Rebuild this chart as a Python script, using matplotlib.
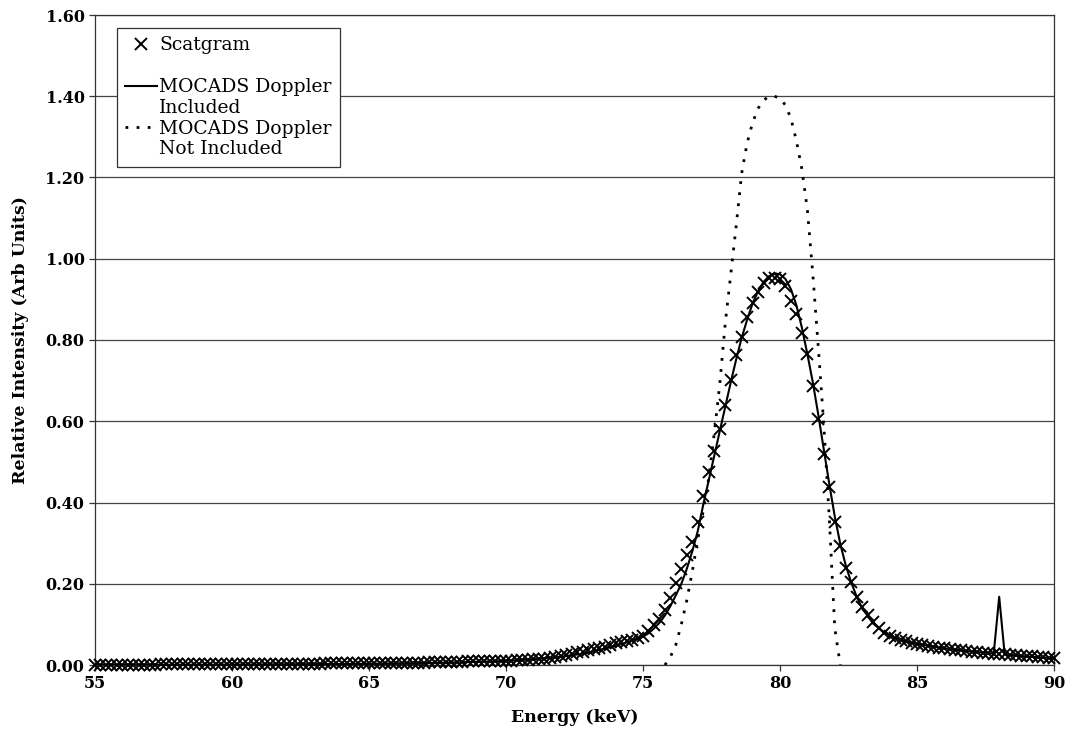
"""
Scatgram vs MOCADS spectrum comparison.
"""

import matplotlib.pyplot as plt
import numpy as np
from matplotlib.lines import Line2D


# ==========================================================
# Data
# ==========================================================

# Scatgram, sampled every 0.2 keV from 55 to 90 keV
scatgram_energy = np.round(np.arange(55.0, 90.001, 0.2), 1)
scatgram_intensity = [
    0.001, 0.001, 0.001, 0.001, 0.001,  # 55
    0.001, 0.001, 0.001, 0.001, 0.001,  # 56
    0.001, 0.001, 0.002, 0.002, 0.002,  # 57
    0.002, 0.002, 0.002, 0.002, 0.002,  # 58
    0.002, 0.002, 0.002, 0.002, 0.002,  # 59
    0.002, 0.002, 0.002, 0.003, 0.003,  # 60
    0.003, 0.003, 0.003, 0.003, 0.003,  # 61
    0.003, 0.003, 0.003, 0.003, 0.003,  # 62
    0.003, 0.003, 0.004, 0.004, 0.004,  # 63
    0.004, 0.004, 0.004, 0.004, 0.004,  # 64
    0.004, 0.005, 0.005, 0.005, 0.005,  # 65
    0.005, 0.006, 0.006, 0.006, 0.006,  # 66
    0.006, 0.007, 0.007, 0.007, 0.008,  # 67
    0.008, 0.008, 0.008, 0.009, 0.009,  # 68
    0.009, 0.010, 0.010, 0.010, 0.011,  # 69
    0.011, 0.011, 0.012, 0.012, 0.013,  # 70
    0.014, 0.015, 0.016, 0.018, 0.020,  # 71
    0.022, 0.025, 0.028, 0.031, 0.033,  # 72
    0.036, 0.039, 0.042, 0.045, 0.049,  # 73
    0.053, 0.056, 0.059, 0.062, 0.066,  # 74
    0.071, 0.083, 0.098, 0.114, 0.135,  # 75
    0.166, 0.202, 0.237, 0.270, 0.303,  # 76
    0.353, 0.417, 0.474, 0.528, 0.580,  # 77
    0.640, 0.702, 0.763, 0.808, 0.857,  # 78
    0.892, 0.918, 0.941, 0.953, 0.952,  # 79
    0.949, 0.932, 0.896, 0.865, 0.818,  # 80
    0.765, 0.688, 0.606, 0.520, 0.438,  # 81
    0.353, 0.292, 0.240, 0.204, 0.168,  # 82
    0.142, 0.123, 0.105, 0.090, 0.080,  # 83
    0.072, 0.067, 0.062, 0.058, 0.055,  # 84
    0.052, 0.049, 0.047, 0.045, 0.043,  # 85
    0.041, 0.039, 0.037, 0.036, 0.034,  # 86
    0.033, 0.031, 0.030, 0.029, 0.028,  # 87
    0.027, 0.026, 0.025, 0.024, 0.023,  # 88
    0.022, 0.021, 0.020, 0.019, 0.018,  # 89
    0.017,                              # 90
]

# MOCADS, Doppler broadening included
doppler_energy = [
    55.0, 60.0, 65.0, 68.0, 70.0, 71.0, 72.0, 73.0, 74.0, 74.5,
    75.0, 75.2, 75.4, 75.6, 75.8, 76.0, 76.2, 76.4, 76.6, 76.8,
    77.0, 77.2, 77.4, 77.6, 77.8, 78.0, 78.2, 78.4, 78.6, 78.8,
    79.0, 79.2, 79.4, 79.6, 79.8, 80.0, 80.2, 80.4, 80.6, 80.8,
    81.0, 81.2, 81.4, 81.6, 81.8, 82.0, 82.2, 82.4, 82.6, 82.8,
    83.0, 83.4, 83.8, 84.2, 84.6, 85.0, 86.0, 87.0, 87.8, 88.0,
    88.2, 89.0, 90.0,
]
doppler_intensity = [
    0.000, 0.001, 0.003, 0.006, 0.010, 0.014, 0.020, 0.030, 0.047, 0.058,
    0.070, 0.078, 0.090, 0.104, 0.122, 0.145, 0.172, 0.200, 0.237, 0.280,
    0.330, 0.395, 0.455, 0.515, 0.575, 0.635, 0.695, 0.752, 0.805, 0.850,
    0.890, 0.920, 0.943, 0.957, 0.964, 0.962, 0.950, 0.925, 0.885, 0.830,
    0.765, 0.695, 0.615, 0.530, 0.445, 0.365, 0.298, 0.245, 0.203, 0.168,
    0.140, 0.102, 0.080, 0.067, 0.058, 0.052, 0.041, 0.033, 0.028, 0.168,
    0.026, 0.021, 0.017,
]

# MOCADS, Doppler broadening not included
no_doppler_energy = [
    75.8, 76.0, 76.2, 76.4, 76.6, 76.8, 77.0, 77.2, 77.4, 77.6,
    77.8, 78.0, 78.2, 78.4, 78.6, 78.8, 79.0, 79.2, 79.4, 79.6,
    79.8, 80.0, 80.2, 80.4, 80.6, 80.8, 81.0, 81.2, 81.4, 81.6,
    81.8, 82.0, 82.2,
]
no_doppler_intensity = [
    0.000, 0.020, 0.050, 0.100, 0.160, 0.230, 0.310, 0.380, 0.460, 0.570,
    0.690, 0.840, 0.960, 1.080, 1.210, 1.285, 1.335, 1.370, 1.390, 1.400,
    1.400, 1.395, 1.378, 1.345, 1.290, 1.220, 1.120, 0.960, 0.780, 0.590,
    0.360, 0.090, 0.000,
]


# ==========================================================
# Plot
# ==========================================================

plt.rcParams["font.family"] = ["DejaVu Serif"]

fig = plt.figure(figsize=(10.68, 7.44), dpi=100)
ax = fig.add_axes([95 / 1068, 1 - 665 / 744, 959 / 1068, 650 / 744])

ax.plot(
    doppler_energy,
    doppler_intensity,
    color="black",
    linewidth=1.5,
    zorder=3,
)

ax.plot(
    no_doppler_energy,
    no_doppler_intensity,
    color="black",
    linewidth=2.0,
    linestyle=(0, (1, 3)),
    zorder=3,
)

ax.plot(
    scatgram_energy,
    scatgram_intensity,
    linestyle="none",
    marker="x",
    markersize=8,
    markeredgewidth=1.4,
    color="black",
    zorder=4,
    clip_on=False,
)

ax.set_xlim(55, 90)
ax.set_ylim(0, 1.6)
ax.set_xticks(np.arange(55, 91, 5))
ax.set_yticks(np.arange(0, 1.61, 0.2))
ax.set_yticklabels([f"{v:.2f}" for v in np.arange(0, 1.61, 0.2)])

ax.yaxis.grid(True, color="#444444", linewidth=0.9)
ax.set_axisbelow(True)

for side in ["left", "right", "top", "bottom"]:
    ax.spines[side].set_color("#333333")
    ax.spines[side].set_linewidth(0.9)

ax.tick_params(
    direction="out",
    length=4,
    width=0.9,
    color="#333333",
    labelsize=11.5,
)
for label in ax.get_xticklabels() + ax.get_yticklabels():
    label.set_fontweight("bold")

ax.set_xlabel("Energy (keV)", fontsize=12.5, fontweight="bold", labelpad=12)
ax.set_ylabel(
    "Relative Intensity (Arb Units)",
    fontsize=12.5,
    fontweight="bold",
    labelpad=12,
)

# legend rows, the empty ones carry the wrapped text
blank = Line2D([], [], linestyle="none")
handles = [
    Line2D([], [], linestyle="none", marker="x", color="black",
           markersize=8, markeredgewidth=1.4),
    blank,
    Line2D([], [], color="black", linewidth=1.5),
    blank,
    Line2D([], [], color="black", linewidth=2.0, linestyle=(0, (1, 3))),
    blank,
]
labels = [
    "Scatgram",
    "",
    "MOCADS Doppler",
    "Included",
    "MOCADS Doppler",
    "Not Included",
]

leg = ax.legend(
    handles,
    labels,
    loc="upper left",
    bbox_to_anchor=(22 / 959, 1 - 13 / 650),
    borderaxespad=0,
    fontsize=13.5,
    frameon=True,
    fancybox=False,
    edgecolor="#333333",
    framealpha=1,
    handlelength=1.7,
    handletextpad=0.1,
    labelspacing=0.15,
    borderpad=0.45,
)
leg.get_frame().set_linewidth(0.9)

plt.savefig("out.png", dpi=100)
plt.close()
